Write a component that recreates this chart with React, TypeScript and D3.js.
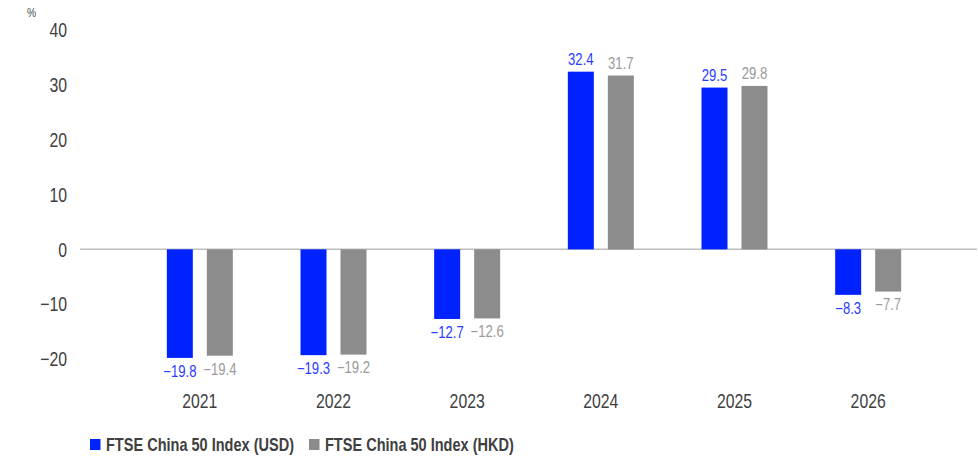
import React from "react";
import * as d3 from "d3";

const categories = ["2021", "2022", "2023", "2024", "2025", "2026"];
const usdValues = [-19.8, -19.3, -12.7, 32.4, 29.5, -8.3];
const hkdValues = [-19.4, -19.2, -12.6, 31.7, 29.8, -7.7];
const seriesNames = ["FTSE China 50 Index (USD)", "FTSE China 50 Index (HKD)"];
const yTicks = [40, 30, 20, 10, 0, -10, -20];

const W = 978;
const H = 460;
const FONT = "'Liberation Sans', Arial, sans-serif";
const BLUE = "#0022ff";
const GREY = "#8c8c8c";
const BLUE_TXT = "#2a3cff";
const GREY_TXT = "#9a9a9a";

function NText(props: {
  x: number;
  y: number;
  anchor?: "start" | "middle" | "end";
  size: number;
  fill: string;
  weight?: string;
  dy?: string;
  sx?: number;
  children: React.ReactNode;
}) {
  return (
    <text
      transform={`translate(${props.x},${props.y}) scale(${props.sx ?? 0.82},1)`}
      textAnchor={props.anchor || "start"}
      fontSize={props.size}
      fill={props.fill}
      fontWeight={props.weight || "normal"}
      dy={props.dy}
    >
      {props.children}
    </text>
  );
}

export default function App() {
  const x = d3.scaleBand<string>().domain(categories).range([133, 935]).paddingInner(0).paddingOuter(0);
  const inner = d3.scaleBand<string>().domain(["usd", "hkd"]).range([0, 66]).paddingInner(0.35).paddingOuter(0);
  const y = d3.scaleLinear().domain([-20, 40]).range([359, 30]);

  const series = [
    { key: "usd", values: usdValues, color: BLUE, text: BLUE_TXT },
    { key: "hkd", values: hkdValues, color: GREY, text: GREY_TXT },
  ];

  const fmt = (v: number) => (v < 0 ? "\u2212" + Math.abs(v).toFixed(1) : v.toFixed(1));

  return (
    <svg width={W} height={H} style={{ position: "absolute", left: 0, top: 0, background: "#fff" }} fontFamily={FONT}>
      <NText x={27} y={17} size={12.5} fill="#444">%</NText>
      {yTicks.map((t) => (
        <NText key={t} x={67} y={y(t)} dy="0.36em" anchor="end" size={20} sx={0.79} fill="#404040">
          {t < 0 ? "\u2212" + Math.abs(t) : String(t)}
        </NText>
      ))}
      <line x1={80} x2={977} y1={y(0)} y2={y(0)} stroke="#bdbdbd" strokeWidth={1.5} />
      {series.map((s) =>
        categories.map((c, i) => {
          const v = s.values[i];
          const bx = (x(c) as number) + x.bandwidth() / 2 - 33 + (inner(s.key) as number);
          const top = y(Math.max(0, v));
          const h = Math.abs(y(v) - y(0));
          const cx = bx + inner.bandwidth() / 2;
          return (
            <g key={s.key + c}>
              <rect x={bx} y={top} width={inner.bandwidth()} height={h} fill={s.color} />
              <NText
                x={cx}
                y={v >= 0 ? y(v) - 7 : y(v) + 6}
                dy={v >= 0 ? "0" : "0.8em"}
                anchor="middle"
                size={16}
                fill={s.text}
              >
                {fmt(v)}
              </NText>
            </g>
          );
        })
      )}
      {categories.map((c) => (
        <NText key={c} x={(x(c) as number) + x.bandwidth() / 2} y={408} anchor="middle" size={20} sx={0.79} fill="#404040">
          {c}
        </NText>
      ))}
      <g>
        <rect x={90} y={439} width={10.5} height={11} fill={BLUE} />
        <NText x={106} y={450.5} size={17.5} weight="bold" sx={0.83} fill="#404040">{seriesNames[0]}</NText>
        <rect x={309} y={439} width={10.5} height={11} fill={GREY} />
        <NText x={325} y={450.5} size={17.5} weight="bold" sx={0.83} fill="#404040">{seriesNames[1]}</NText>
      </g>
    </svg>
  );
}
